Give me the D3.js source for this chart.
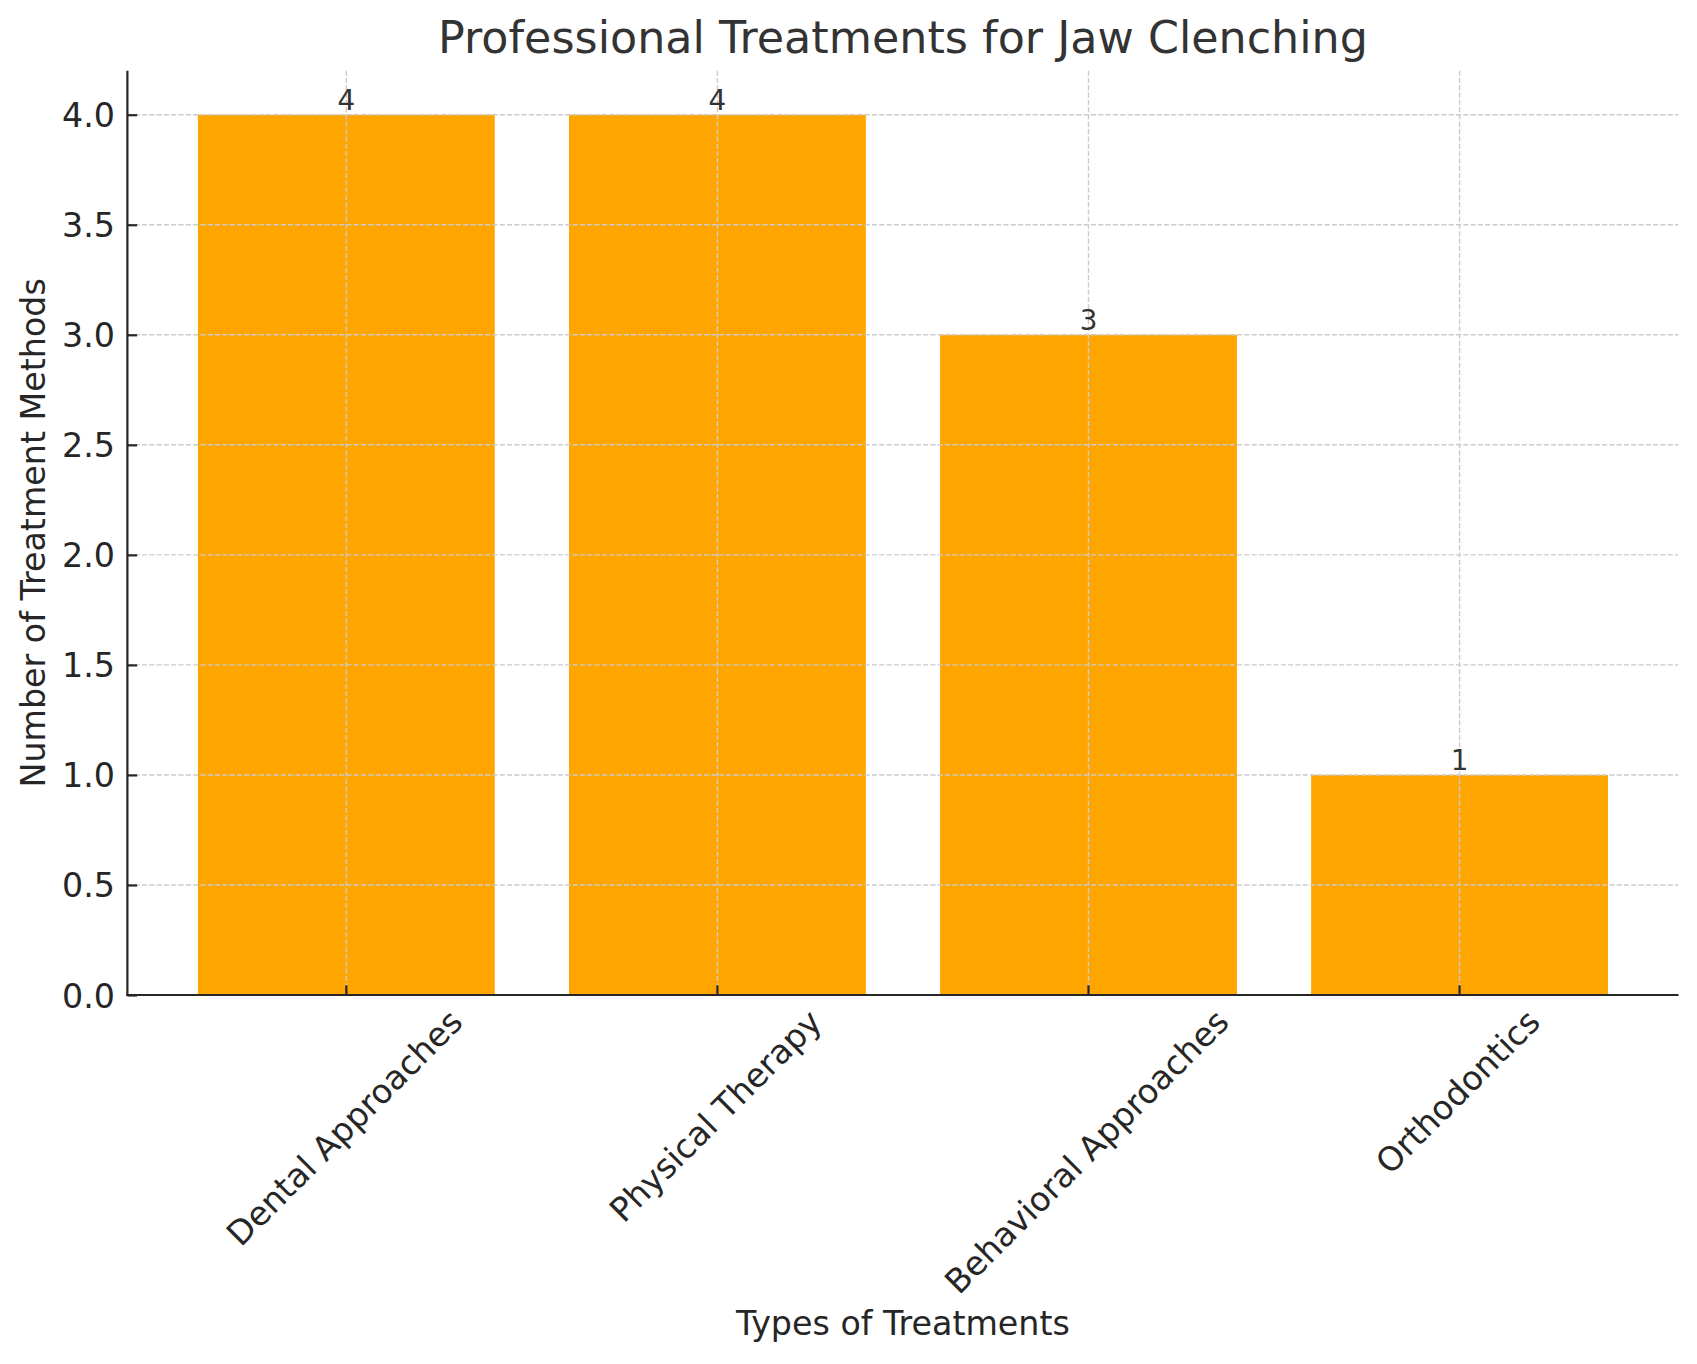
<!DOCTYPE html>
<html>
<head>
<meta charset="utf-8">
<script src="https://cdn.jsdelivr.net/npm/d3@7"></script>
<style>
  html, body { margin: 0; padding: 0; background: #ffffff; }
  svg { display: block; font-family: "DejaVu Sans", sans-serif; }
</style>
</head>
<body>
<svg id="chart" width="1697" height="1364"></svg>
<script>
// ---- data ----
const categories = ["Dental Approaches", "Physical Therapy", "Behavioral Approaches", "Orthodontics"];
const counts = [4, 4, 3, 1];
const yTicks = [0, 0.5, 1.0, 1.5, 2.0, 2.5, 3.0, 3.5, 4.0];
const titleText = "Professional Treatments for Jaw Clenching";
const xLabelText = "Types of Treatments";
const yLabelText = "Number of Treatment Methods";

// ---- layout ----
const W = 1697, H = 1364;
const plot = { left: 127.4, right: 1678.5, top: 70.7, bottom: 995 };

const svg = d3.select("#chart");
svg.append("rect").attr("width", W).attr("height", H).attr("fill", "#ffffff");

const x = d3.scaleBand()
  .domain(categories)
  .range([plot.left, plot.right])
  .paddingInner(0.2)
  .paddingOuter(0.19);

const y = d3.scaleLinear()
  .domain([0, 4.2])
  .range([plot.bottom, plot.top]);

const data = categories.map((c, i) => ({ cat: c, val: counts[i] }));

// bars
svg.append("g").selectAll("rect")
  .data(data)
  .join("rect")
  .attr("x", d => x(d.cat))
  .attr("y", d => y(d.val))
  .attr("width", x.bandwidth())
  .attr("height", d => y(0) - y(d.val))
  .attr("fill", "#FFA500");

// grid (drawn above bars)
const grid = svg.append("g")
  .attr("stroke", "#cbcbcb")
  .attr("stroke-width", 1.4)
  .attr("stroke-dasharray", "5.1,2.2");
grid.selectAll("line.h")
  .data(yTicks)
  .join("line")
  .attr("class", "h")
  .attr("x1", plot.left).attr("x2", plot.right)
  .attr("y1", d => y(d)).attr("y2", d => y(d));
grid.selectAll("line.v")
  .data(categories)
  .join("line")
  .attr("class", "v")
  .attr("x1", d => x(d) + x.bandwidth() / 2)
  .attr("x2", d => x(d) + x.bandwidth() / 2)
  .attr("y1", plot.top).attr("y2", plot.bottom);

// value labels
svg.append("g").selectAll("text")
  .data(data)
  .join("text")
  .attr("x", d => x(d.cat) + x.bandwidth() / 2)
  .attr("y", d => y(d.val) - 5)
  .attr("text-anchor", "middle")
  .attr("font-size", 27.8)
  .attr("fill", "#333333")
  .text(d => d.val);

// y axis (inward ticks)
const yAxis = d3.axisLeft(y)
  .tickValues(yTicks)
  .tickFormat(d3.format(".1f"))
  .tickSize(-9.7)
  .tickPadding(12.5);
const gy = svg.append("g")
  .attr("transform", `translate(${plot.left},0)`)
  .call(yAxis);
gy.select(".domain").remove();
gy.selectAll(".tick line").attr("stroke", "#262626").attr("stroke-width", 2.2);
gy.selectAll(".tick text")
  .attr("font-size", 33.3)
  .attr("font-family", "DejaVu Sans")
  .attr("fill", "#262626")
  .attr("dy", "0.36em");

// x axis (inward ticks)
const xAxis = d3.axisBottom(x).tickSize(-9.7).tickFormat("");
const gx = svg.append("g")
  .attr("transform", `translate(0,${plot.bottom})`)
  .call(xAxis);
gx.select(".domain").remove();
gx.selectAll(".tick line").attr("stroke", "#262626").attr("stroke-width", 2.2);
gx.selectAll(".tick text").remove();

// rotated x tick labels, bbox centred on tick
const fsTick = 33.3;
const labelTop = 1006;
const xl = svg.append("g");
categories.forEach(c => {
  const t = xl.append("text")
    .attr("text-anchor", "middle")
    .attr("font-size", fsTick)
    .attr("fill", "#262626")
    .attr("dy", "0.27em")
    .text(c);
  const w = t.node().getComputedTextLength();
  const h = 0.99 * fsTick;
  const bh = (w + h) * Math.SQRT1_2;
  const cx = x(c) + x.bandwidth() / 2;
  const cy = labelTop + bh / 2;
  t.attr("transform", `translate(${cx},${cy}) rotate(-45)`);
});

// spines
svg.append("line")
  .attr("x1", plot.left).attr("x2", plot.left)
  .attr("y1", plot.top).attr("y2", plot.bottom + 1.1)
  .attr("stroke", "#262626").attr("stroke-width", 2.2);
svg.append("line")
  .attr("x1", plot.left - 1.1).attr("x2", plot.right)
  .attr("y1", plot.bottom).attr("y2", plot.bottom)
  .attr("stroke", "#262626").attr("stroke-width", 2.2);

// title and axis labels
svg.append("text")
  .attr("x", (plot.left + plot.right) / 2)
  .attr("y", 53.3)
  .attr("text-anchor", "middle")
  .attr("font-size", 44.4)
  .attr("fill", "#333333")
  .text(titleText);

svg.append("text")
  .attr("x", (plot.left + plot.right) / 2)
  .attr("y", 1335)
  .attr("text-anchor", "middle")
  .attr("font-size", 33.3)
  .attr("fill", "#262626")
  .text(xLabelText);

svg.append("text")
  .attr("transform", `translate(45,${(plot.top + plot.bottom) / 2}) rotate(-90)`)
  .attr("text-anchor", "middle")
  .attr("font-size", 33.3)
  .attr("fill", "#262626")
  .text(yLabelText);
</script>
</body>
</html>
